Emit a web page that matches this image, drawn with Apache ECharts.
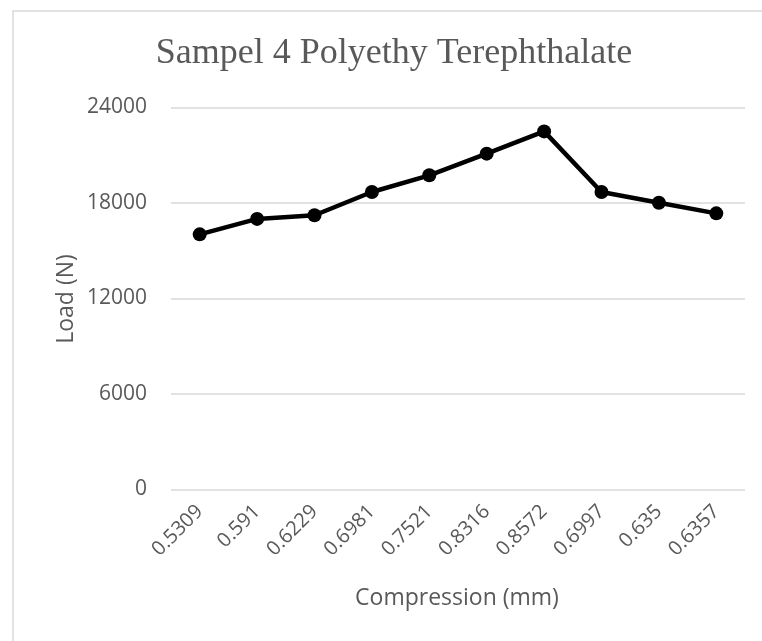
<!DOCTYPE html>
<html>
<head>
<meta charset="utf-8">
<script src="https://cdn.jsdelivr.net/npm/echarts@6/dist/echarts.min.js"></script>
<style>html,body{margin:0;padding:0;background:#fff;}#c{width:762px;height:641px;}</style>
</head>
<body>
<div id="c"></div>
<script>
const categories = ['0.5309','0.591','0.6229','0.6981','0.7521','0.8316','0.8572','0.6997','0.635','0.6357'];
const loadValues = [16030, 17000, 17230, 18690, 19740, 21100, 22500, 18690, 18020, 17350];
const yTicks = {min: 0, max: 24000, interval: 6000};
const titleText = 'Sampel 4 Polyethy Terephthalate';
const xName = 'Compression (mm)';
const yName = 'Load (N)';

const chart = echarts.init(document.getElementById('c'), null, {renderer: 'canvas'});
chart.setOption({
  backgroundColor: '#fff',
  animation: false,
  grid: {left: 171, right: 17, top: 107.5, bottom: 151.5},
  xAxis: {
    type: 'category',
    data: categories,
    boundaryGap: true,
    axisLine: {show: false},
    axisTick: {show: false},
    axisLabel: {rotate: 45, color: '#595959', fontSize: 20, fontFamily: 'Open Sans', margin: 19}
  },
  yAxis: {
    type: 'value',
    min: yTicks.min, max: yTicks.max, interval: yTicks.interval,
    axisLine: {show: false},
    axisTick: {show: false},
    axisLabel: {color: '#595959', fontSize: 21, fontFamily: 'Open Sans', margin: 24, formatter: function (v) { return String(v); }},
    splitLine: {lineStyle: {color: '#d9d9d9', width: 1.5}}
  },
  series: [{
    type: 'line',
    data: loadValues,
    symbol: 'circle',
    symbolSize: 14,
    lineStyle: {color: '#000', width: 4.5},
    itemStyle: {color: '#000'}
  }],
  graphic: [
    {type: 'rect', shape: {x: 13, y: 11, width: 800, height: 700}, style: {fill: 'none', stroke: '#d9d9d9', lineWidth: 1.5}, z: -1},
    {type: 'text', x: 394, y: 54, style: {text: titleText, fill: '#595959', font: '36px "Liberation Serif"', textAlign: 'center', textVerticalAlign: 'middle'}},
    {type: 'text', x: 457, y: 598, style: {text: xName, fill: '#595959', font: '23px "Open Sans"', textAlign: 'center', textVerticalAlign: 'middle'}},
    {type: 'text', x: 66, y: 299, rotation: Math.PI/2, style: {text: yName, fill: '#595959', font: '23px "Open Sans"', textAlign: 'center', textVerticalAlign: 'middle'}}
  ]
});
</script>
</body>
</html>
